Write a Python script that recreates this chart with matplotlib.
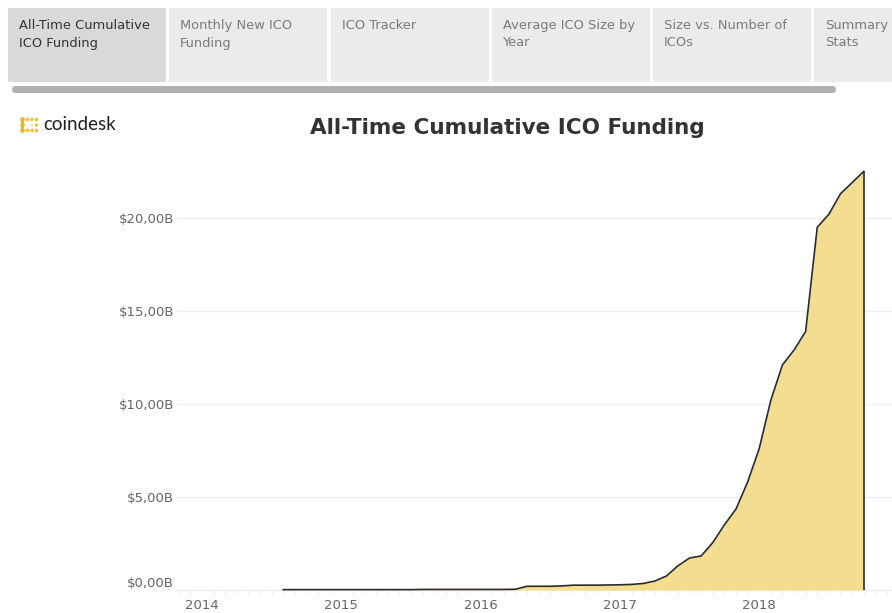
import numpy as np
import pandas as pd
import matplotlib
matplotlib.use("Agg")
import matplotlib.pyplot as plt
from matplotlib.patches import Rectangle, FancyBboxPatch, Circle
from matplotlib.ticker import FuncFormatter, MultipleLocator

# ---- data (billions of USD, monthly)
months = pd.date_range("2014-08-01", "2018-10-01", freq="MS")
funding = [
    0.02, 0.02, 0.02, 0.02, 0.02,                                          # 2014 Aug-Dec
    0.02, 0.02, 0.02, 0.02, 0.02, 0.02, 0.02, 0.03, 0.03, 0.03, 0.03, 0.03,  # 2015
    0.03, 0.03, 0.03, 0.04, 0.20, 0.20, 0.20, 0.22, 0.26, 0.26, 0.26, 0.27,  # 2016
    0.28, 0.30, 0.35, 0.48, 0.75, 1.30, 1.72, 1.83, 2.55, 3.50, 4.35, 5.80,  # 2017
    7.60, 10.2, 12.1, 12.9, 13.9, 19.5, 20.2, 21.3, 21.9, 22.5,              # 2018 Jan-Oct
]
years = [2014, 2015, 2016, 2017, 2018]
yticks = [0, 5, 10, 15, 20]
tabs = ["All-Time Cumulative\nICO Funding", "Monthly New ICO\nFunding", "ICO Tracker",
        "Average ICO Size by\nYear", "Size vs. Number of\nICOs", "Summary\nStats"]


def money(v):
    return f"${v:.2f}B".replace(".", ",")


x = months.year + (months.month - 1) / 12.0
y = np.array(funding)

W, H = 892, 613
fig = plt.figure(figsize=(W / 100, H / 100), dpi=100)

# ---- page decoration in pixel coords
bg = fig.add_axes([0, 0, 1, 1])
bg.set_xlim(0, W)
bg.set_ylim(H, 0)
bg.axis("off")

tab_x = [8, 169, 331, 492, 653, 814]
for i, (tx, label) in enumerate(zip(tab_x, tabs)):
    face = "#d9d9d9" if i == 0 else "#ebebeb"
    bg.add_patch(Rectangle((tx, 8), 158, 74, facecolor=face, edgecolor="none"))
    bg.text(tx + 11, 19, label, fontsize=9.4, va="top", ha="left",
            color="#333333" if i == 0 else "#7a7a7a", linespacing=1.45,
            family="DejaVu Sans")
bg.add_patch(FancyBboxPatch((12, 86), 824, 7, boxstyle="round,pad=0,rounding_size=3.5",
                            facecolor="#b0b0b0", edgecolor="none"))

# coindesk logo: bracket of dots
cols = [22.5, 27.5, 32.0, 36.5]
rows = [119.5, 125.0, 130.5]
for r in rows:
    bg.add_patch(Circle((cols[0], r), 2.3, facecolor="#f5b31b", edgecolor="none"))
bg.add_patch(Rectangle((cols[0] - 1.6, rows[0]), 3.2, rows[2] - rows[0],
                       facecolor="#f5b31b", edgecolor="none"))
for c in cols[1:]:
    for r in (rows[0], rows[2]):
        bg.add_patch(Circle((c, r), 1.8, facecolor="#f7bd3a", edgecolor="none"))
bg.add_patch(Circle((cols[3], rows[1]), 1.6, facecolor="#f7bd3a", edgecolor="none"))
bg.add_patch(Circle((cols[2], rows[1]), 1.0, facecolor="#fbd98a", edgecolor="none"))
bg.text(43, 124, "coindesk", fontsize=13.5, va="center", ha="left",
        color="#1f1f1f", family="Lato")

bg.text(507, 128, "All-Time Cumulative ICO Funding", fontsize=15.5, fontweight="bold",
        ha="center", va="center", color="#333333", family="DejaVu Sans")

# ---- chart
x0, x1 = 177, W
yb, yt = 592, 150
ax = fig.add_axes([x0 / W, (H - yb) / H, (x1 - x0) / W, (yb - yt) / H])
px_per_year = 139.3
ax.set_xlim(2014 - (202 - x0) / px_per_year, 2014 + (x1 - 202) / px_per_year)
px_per_b = 18.6
ax.set_ylim(-(yb - 590) / px_per_b, (590 - yt) / px_per_b)

ax.fill_between(x, 0, y, color="#f3dd8e", linewidth=0, zorder=2)
ax.plot(x, y, color="#2b2b2b", linewidth=1.2, zorder=3)
ax.vlines(x[-1], 0, y[-1], color="#2b2b2b", linewidth=1.2, zorder=3)

for s in ax.spines.values():
    s.set_visible(False)
ax.set_yticks(yticks)
# the zero label sits a little above its gridline in the reference
ax.yaxis.set_major_formatter(FuncFormatter(lambda v, p: "" if v == 0 else money(v)))
ax.annotate(money(yticks[0]), xy=(0, yticks[0]), xycoords=("axes fraction", "data"),
            xytext=(-2, 5), textcoords="offset points", ha="right", va="center",
            fontsize=9.5, color="#666666", family="DejaVu Sans")
ax.grid(axis="y", color="#eeeeee", linewidth=1, zorder=0)
ax.set_xticks(years)
ax.xaxis.set_minor_locator(MultipleLocator(1 / 12))
ax.tick_params(axis="y", length=0, pad=2, labelsize=9.5, labelcolor="#666666")
ax.tick_params(axis="x", which="major", length=0, pad=5, labelsize=9.5, labelcolor="#666666")
ax.tick_params(axis="x", which="minor", length=4, direction="inout", color="#ececec")
for lab in ax.get_yticklabels() + ax.get_xticklabels():
    lab.set_family("DejaVu Sans")

fig.savefig("out.png", dpi=100)
